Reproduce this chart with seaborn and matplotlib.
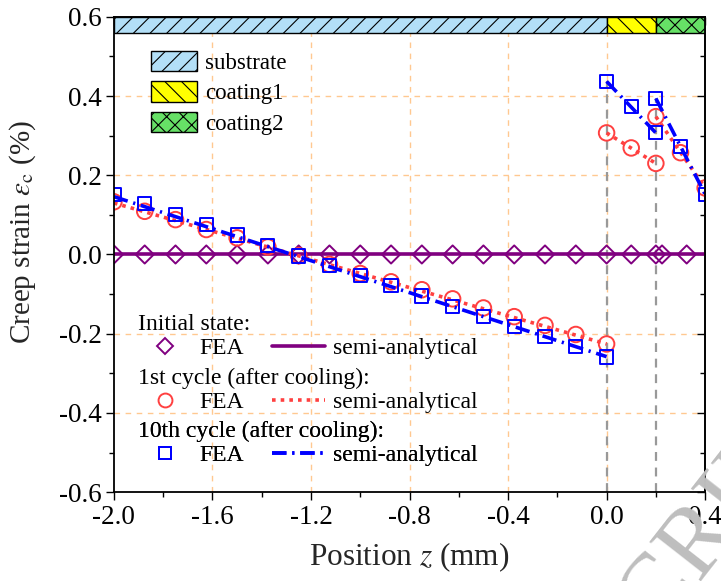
import numpy as np
import pandas as pd
import matplotlib
matplotlib.use("Agg")
import matplotlib.pyplot as plt
import seaborn as sns
from matplotlib.patches import Patch
from matplotlib.lines import Line2D

# ---------------- data ----------------
z_sub = [-2.0, -1.875, -1.75, -1.625, -1.5, -1.375, -1.25, -1.125, -1.0,
         -0.875, -0.75, -0.625, -0.5, -0.375, -0.25, -0.125, 0.0]
init_fea_z = z_sub + [0.1, 0.2, 0.225, 0.325]
init_fea_v = [0.0] * len(init_fea_z)
init_semi_z = [-2.0, 0.4]
init_semi_v = [0.0, 0.0]

c1_sub_fea = [0.133, 0.109, 0.088, 0.063, 0.042, 0.019, -0.003, -0.025, -0.048,
              -0.069, -0.089, -0.112, -0.135, -0.157, -0.179, -0.202, -0.226]
c10_sub_fea = [0.152, 0.129, 0.101, 0.076, 0.049, 0.023, -0.004, -0.027, -0.053,
               -0.078, -0.105, -0.132, -0.156, -0.181, -0.208, -0.233, -0.259]

coat1_z = [0.0, 0.1, 0.2]
coat2_z = [0.2, 0.3, 0.4]
c1_coat1_fea = [0.307, 0.269, 0.230]
c1_coat2_fea = [0.348, 0.257, 0.168]
c10_coat1_fea = [0.437, 0.373, 0.307]
c10_coat2_fea = [0.394, 0.273, 0.152]

semi_sub_z = [-2.0, 0.0]
c1_semi_sub = [0.130, -0.226]
c10_semi_sub = [0.146, -0.258]
c1_semi_coat1 = [0.307, 0.230]
c1_semi_coat2 = [0.348, 0.168]
c10_semi_coat1 = [0.437, 0.307]
c10_semi_coat2 = [0.394, 0.152]

layer_names = ["substrate", "coating1", "coating2"]
layer_start = [-2.0, 0.0, 0.2]
layer_width = [2.0, 0.2, 0.2]
layer_colors = ["#B3DFF7", "#FFFF00", "#66E066"]
layer_hatch = ["//", "\\\\", "xx"]

interfaces = [0.0, 0.2]

x_ticks = [-2.0, -1.6, -1.2, -0.8, -0.4, 0.0, 0.4]
y_ticks = [-0.6, -0.4, -0.2, 0.0, 0.2, 0.4, 0.6]

PURPLE = "#800080"
RED = "#FF4040"
BLUE = "#0000FF"

# ---------------- style ----------------
sns.set_theme(style="ticks")
plt.rcParams["font.family"] = ["Liberation Serif", "DejaVu Serif"]
plt.rcParams["mathtext.fontset"] = "stix"
plt.rcParams["hatch.linewidth"] = 0.8

fig = plt.figure(figsize=(7.21, 5.81), dpi=100)
ax = fig.add_axes([0.158, 0.153, 0.820, 0.818])

# grid
for xv in x_ticks[1:-1]:
    ax.axvline(xv, color="#FFC890", lw=1.0, ls=(0, (4, 4)), zorder=0)
for yv in y_ticks[1:-1]:
    ax.axhline(yv, color="#FFC890", lw=1.0, ls=(0, (4, 4)), zorder=0)

# interface lines
top_at_iface = [max(c10_coat1_fea[0], c1_coat1_fea[0]), max(c10_coat2_fea[0], c1_coat2_fea[0])]
ax.vlines(interfaces, -0.6, top_at_iface, colors="#999999", lw=1.6,
          linestyles=(0, (4, 3)), zorder=1)

# initial state
sns.lineplot(x=init_semi_z, y=init_semi_v, ax=ax, color=PURPLE, lw=2.6, zorder=2)
sns.scatterplot(x=init_fea_z, y=init_fea_v, ax=ax, marker="D", s=85,
                facecolor="none", edgecolor=PURPLE, linewidth=1.4, zorder=3)

# 1st cycle
red_ls = (0, (1.0, 1.4))
for zz, vv in [(semi_sub_z, c1_semi_sub), (coat1_z[::2], c1_semi_coat1), (coat2_z[::2], c1_semi_coat2)]:
    sns.lineplot(x=zz, y=vv, ax=ax, color=RED, lw=2.6, ls=red_ls, zorder=4)
for zz, vv in [(z_sub, c1_sub_fea), (coat1_z, c1_coat1_fea), (coat2_z, c1_coat2_fea)]:
    sns.scatterplot(x=zz, y=vv, ax=ax, marker="o", s=125, facecolor="none",
                    edgecolor=RED, linewidth=1.4, zorder=5)

# 10th cycle
blue_ls = (0, (4, 1.6, 0.6, 1.6))
for zz, vv in [(semi_sub_z, c10_semi_sub), (coat1_z[::2], c10_semi_coat1), (coat2_z[::2], c10_semi_coat2)]:
    sns.lineplot(x=zz, y=vv, ax=ax, color=BLUE, lw=2.6, ls=blue_ls, zorder=6)
for zz, vv in [(z_sub, c10_sub_fea), (coat1_z, c10_coat1_fea), (coat2_z, c10_coat2_fea)]:
    sns.scatterplot(x=zz, y=vv, ax=ax, marker="s", s=90, facecolor="none",
                    edgecolor=BLUE, linewidth=1.4, zorder=7)

# layer band
ax.bar(layer_start, 0.042, width=layer_width, bottom=0.558, align="edge",
       color=layer_colors, hatch=layer_hatch, edgecolor="black", linewidth=1.0, zorder=8)

# axes
ax.set_xlim(-2.0, 0.4)
ax.set_ylim(-0.6, 0.6)
ax.set_xticks(x_ticks)
ax.set_xticklabels([f"{v:.1f}" for v in x_ticks])
ax.set_yticks(y_ticks)
ax.set_yticklabels([f"{v:.1f}" for v in y_ticks])
ax.set_xticks(np.arange(-1.8, 0.4, 0.4), minor=True)
ax.set_yticks(np.arange(-0.5, 0.6, 0.2), minor=True)
ax.tick_params(which="both", direction="out", labelsize=19.5, color="black",
               top=False, right=False)
ax.tick_params(which="major", length=6, width=1.0, pad=3)
ax.tick_params(which="minor", length=3.5, width=1.0)
for s in ax.spines.values():
    s.set_color("black")
    s.set_linewidth(1.3)
    s.set_zorder(10)

# inward ticks on the top and right edges
secx = ax.secondary_xaxis("top")
secx.set_xticks(x_ticks)
secx.set_xticks(np.arange(-1.8, 0.4, 0.4), minor=True)
secx.tick_params(which="both", direction="in", labeltop=False, color="black")
secx.tick_params(which="major", length=6, width=1.0)
secx.tick_params(which="minor", length=3.5, width=1.0)
secy = ax.secondary_yaxis("right")
secy.set_yticks(y_ticks)
secy.set_yticks(np.arange(-0.5, 0.6, 0.2), minor=True)
secy.tick_params(which="both", direction="in", labelright=False, color="black")
secy.tick_params(which="major", length=6, width=1.0)
secy.tick_params(which="minor", length=3.5, width=1.0)

ax.set_xlabel(r"Position $z$ (mm)", fontsize=22.5, labelpad=8)
ax.set_ylabel(r"Creep strain $\varepsilon_{\rm c}$ (%)", fontsize=21)
ax.yaxis.set_label_coords(-0.128, 0.547)
for t in ax.get_xticklabels() + ax.get_yticklabels():
    t.set_color("black")

# layer legend
layer_handles = [Patch(facecolor=c, hatch=h, edgecolor="black", linewidth=1.0)
                 for c, h in zip(layer_colors, layer_hatch)]
leg0 = ax.legend(layer_handles, layer_names, loc="upper left",
                 bbox_to_anchor=(0.0626, 0.929), frameon=False, fontsize=16.5,
                 handlelength=2.0, handleheight=1.0, handletextpad=0.36,
                 labelspacing=0.33, borderaxespad=0, borderpad=0)
for t in leg0.get_texts():
    t.set_color("black")
ax.add_artist(leg0)

# series legends
groups = [
    ("Initial state:", Line2D([], [], marker="D", ms=8, mfc="none", mec=PURPLE, mew=1.4, ls="none"),
     Line2D([], [], color=PURPLE, lw=2.6)),
    ("1st cycle (after cooling):", Line2D([], [], marker="o", ms=10, mfc="none", mec=RED, mew=1.4, ls="none"),
     Line2D([], [], color=RED, lw=2.6, ls=red_ls)),
    ("10th cycle (after cooling):", Line2D([], [], marker="s", ms=8.5, mfc="none", mec=BLUE, mew=1.4, ls="none"),
     Line2D([], [], color=BLUE, lw=2.6, ls=blue_ls)),
]
y0 = 0.375
for i, (title, hm, hl) in enumerate(groups):
    lg = ax.legend([hm, hl], ["FEA", "semi-analytical"], title=title, ncol=2,
                   loc="upper left", bbox_to_anchor=(0.041, y0 - i * 0.1126),
                   frameon=False, fontsize=17, title_fontsize=17,
                   handlelength=2.25, handletextpad=0.34, columnspacing=1.2,
                   labelspacing=0.12, borderaxespad=0, borderpad=0, alignment="left")
    lg.get_title().set_color("black")
    for t in lg.get_texts():
        t.set_color("black")
    ax.add_artist(lg)

# watermark
fig.text(0.862, -0.162, "SCRIPT", fontsize=72, color="#BEBEBE", rotation=52,
         rotation_mode="anchor", ha="left", va="baseline", zorder=20)

fig.savefig("out.png", dpi=100)
